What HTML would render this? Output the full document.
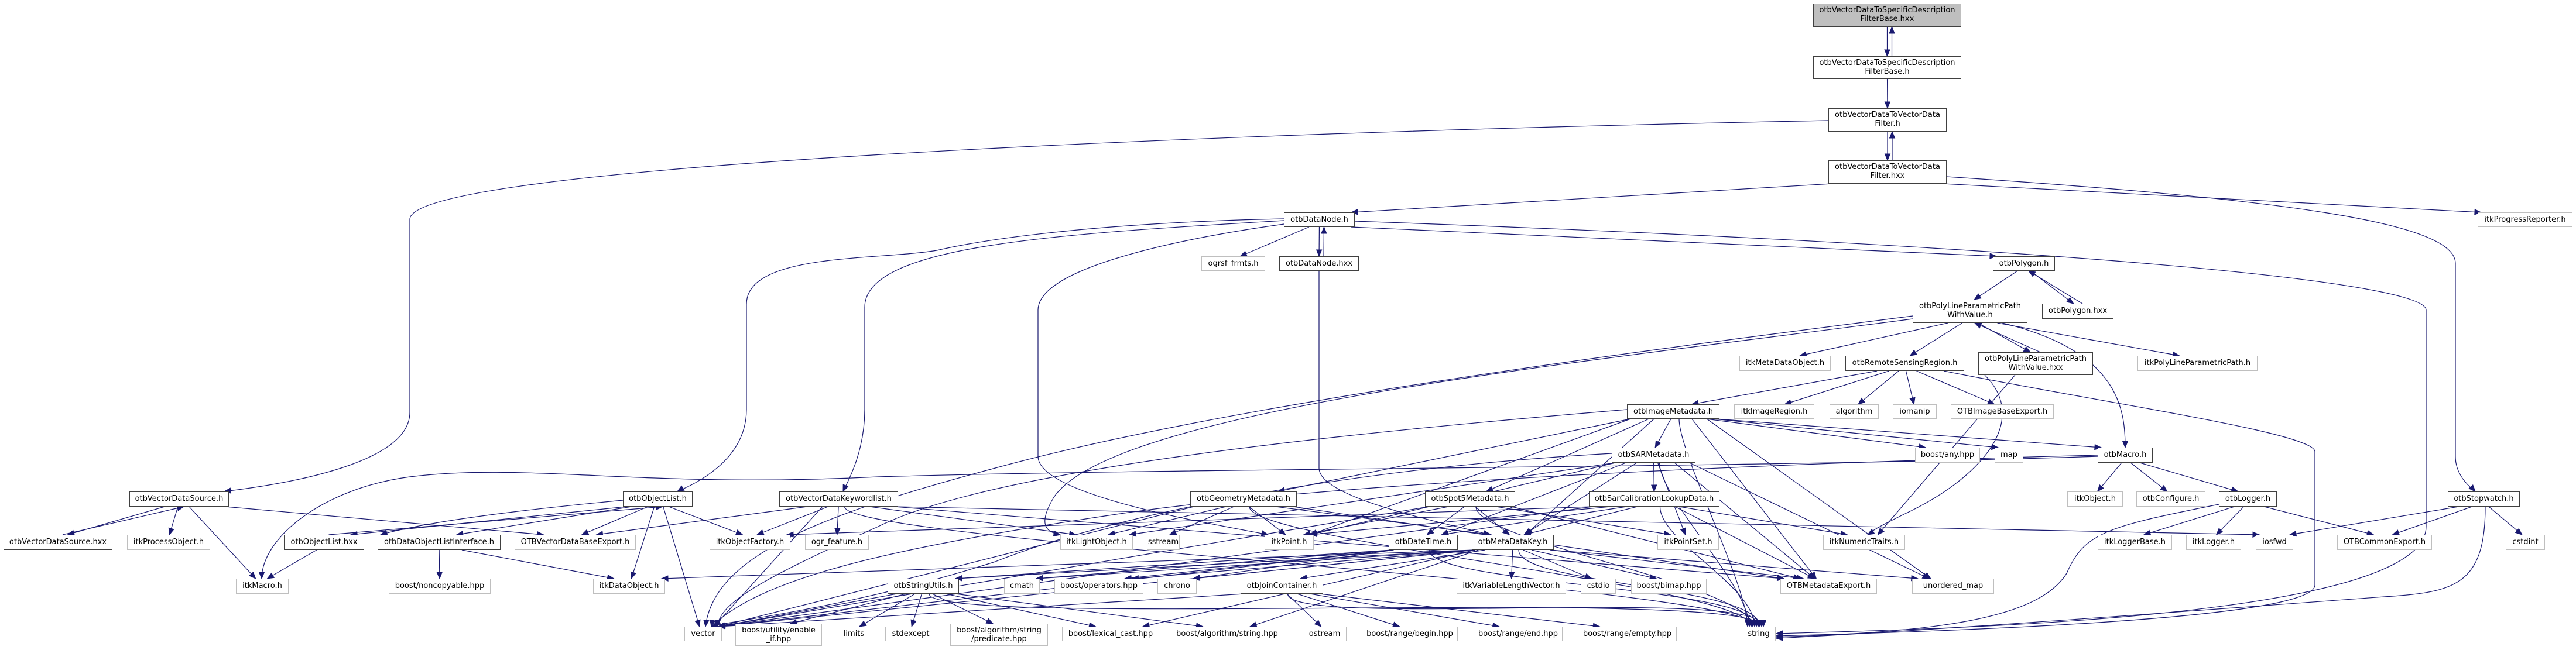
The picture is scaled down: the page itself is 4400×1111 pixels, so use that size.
<!DOCTYPE html>
<html><head><meta charset="utf-8">
<style>
html,body{margin:0;padding:0;background:#fff;}
#c{position:relative;width:4400px;height:1111px;overflow:hidden;background:#fff;}
.n{position:absolute;box-sizing:border-box;border:1px solid #bfbfbf;background:#fff;font-family:"DejaVu Sans","Liberation Sans",sans-serif;font-size:13px;color:#000;text-align:center;line-height:23px;white-space:nowrap;z-index:2;}
.b{border:1.5px solid #404040;}
.r{background:#bfbfbf;border:1.5px solid #404040;}
.t{line-height:15px;padding-top:3px;}
svg{position:absolute;left:0;top:0;z-index:1;}
</style></head><body>
<div id="c">
<svg id="s" width="4400" height="1111" viewBox="0 0 4400 1111"></svg>

<div class="n r t" id="A" style="left:3097px;top:6px;width:253px;height:40px">otbVectorDataToSpecificDescription<br>FilterBase.hxx</div>
<div class="n b t" id="B" style="left:3097px;top:96px;width:253px;height:39px">otbVectorDataToSpecificDescription<br>FilterBase.h</div>
<div class="n b t" id="C" style="left:3123px;top:185px;width:202px;height:40px">otbVectorDataToVectorData<br>Filter.h</div>
<div class="n b t" id="D" style="left:3123px;top:274px;width:202px;height:40px">otbVectorDataToVectorData<br>Filter.hxx</div>

<div class="n b" id="DN" style="left:2193px;top:363px;width:121px;height:25px">otbDataNode.h</div>
<div class="n" id="PR" style="left:4232px;top:363px;width:162px;height:25px">itkProgressReporter.h</div>

<div class="n" id="OG" style="left:2052px;top:438px;width:109px;height:25px">ogrsf_frmts.h</div>
<div class="n b" id="DNX" style="left:2185px;top:438px;width:136px;height:25px">otbDataNode.hxx</div>
<div class="n b" id="PG" style="left:3404px;top:438px;width:106px;height:25px">otbPolygon.h</div>

<div class="n b t" id="PLV" style="left:3267px;top:512px;width:196px;height:40px">otbPolyLineParametricPath<br>WithValue.h</div>
<div class="n b" id="PGX" style="left:3488px;top:519px;width:122px;height:26px">otbPolygon.hxx</div>

<div class="n" id="MDO" style="left:2971px;top:608px;width:156px;height:26px">itkMetaDataObject.h</div>
<div class="n b" id="RSR" style="left:3152px;top:608px;width:203px;height:26px">otbRemoteSensingRegion.h</div>
<div class="n b t" id="PLVX" style="left:3379px;top:602px;width:196px;height:39px">otbPolyLineParametricPath<br>WithValue.hxx</div>
<div class="n" id="IPP" style="left:3651px;top:608px;width:205px;height:26px">itkPolyLineParametricPath.h</div>

<div class="n b" id="IM" style="left:2779px;top:691px;width:158px;height:25px">otbImageMetadata.h</div>
<div class="n" id="IR" style="left:2962px;top:691px;width:137px;height:25px">itkImageRegion.h</div>
<div class="n" id="ALG" style="left:3125px;top:691px;width:84px;height:25px">algorithm</div>
<div class="n" id="IOM" style="left:3233px;top:691px;width:75px;height:25px">iomanip</div>
<div class="n" id="OIBE" style="left:3332px;top:691px;width:176px;height:25px">OTBImageBaseExport.h</div>

<div class="n b" id="SAR" style="left:2753px;top:765px;width:143px;height:26px">otbSARMetadata.h</div>
<div class="n" id="ANY" style="left:3271px;top:765px;width:111px;height:26px">boost/any.hpp</div>
<div class="n" id="MAP" style="left:3407px;top:765px;width:49px;height:26px">map</div>
<div class="n b" id="MAC" style="left:3583px;top:765px;width:94px;height:26px">otbMacro.h</div>

<div class="n b" id="VDS" style="left:221px;top:840px;width:170px;height:26px">otbVectorDataSource.h</div>
<div class="n b" id="OL" style="left:1064px;top:840px;width:119px;height:26px">otbObjectList.h</div>
<div class="n b" id="VDK" style="left:1331px;top:840px;width:203px;height:26px">otbVectorDataKeywordlist.h</div>
<div class="n b" id="GEO" style="left:2033px;top:840px;width:182px;height:26px">otbGeometryMetadata.h</div>
<div class="n b" id="S5" style="left:2434px;top:840px;width:154px;height:26px">otbSpot5Metadata.h</div>
<div class="n b" id="SCL" style="left:2714px;top:840px;width:223px;height:26px">otbSarCalibrationLookupData.h</div>
<div class="n" id="IOBJ" style="left:3531px;top:840px;width:95px;height:26px">itkObject.h</div>
<div class="n" id="CONF" style="left:3649px;top:840px;width:118px;height:26px">otbConfigure.h</div>
<div class="n b" id="LOG" style="left:3790px;top:840px;width:99px;height:26px">otbLogger.h</div>
<div class="n b" id="SW" style="left:4181px;top:840px;width:123px;height:26px">otbStopwatch.h</div>

<div class="n b" id="VDSX" style="left:6px;top:914px;width:186px;height:26px">otbVectorDataSource.hxx</div>
<div class="n" id="IPO" style="left:217px;top:914px;width:142px;height:26px">itkProcessObject.h</div>
<div class="n b" id="OLX" style="left:485px;top:914px;width:137px;height:26px">otbObjectList.hxx</div>
<div class="n b" id="DOLI" style="left:645px;top:914px;width:210px;height:26px">otbDataObjectListInterface.h</div>
<div class="n" id="OVBE" style="left:879px;top:914px;width:207px;height:26px">OTBVectorDataBaseExport.h</div>
<div class="n" id="IOF" style="left:1212px;top:914px;width:138px;height:26px">itkObjectFactory.h</div>
<div class="n" id="OGRF" style="left:1375px;top:914px;width:109px;height:26px">ogr_feature.h</div>
<div class="n" id="ILO" style="left:1811px;top:914px;width:124px;height:26px">itkLightObject.h</div>
<div class="n" id="SST" style="left:1959px;top:914px;width:56px;height:26px">sstream</div>
<div class="n" id="IPT" style="left:2160px;top:914px;width:84px;height:26px">itkPoint.h</div>
<div class="n b" id="DT" style="left:2372px;top:914px;width:118px;height:26px">otbDateTime.h</div>
<div class="n b" id="MDK" style="left:2514px;top:914px;width:140px;height:26px">otbMetaDataKey.h</div>
<div class="n" id="IPS" style="left:2831px;top:914px;width:105px;height:26px">itkPointSet.h</div>
<div class="n" id="INT" style="left:3114px;top:914px;width:140px;height:26px">itkNumericTraits.h</div>
<div class="n" id="ILB" style="left:3583px;top:914px;width:127px;height:26px">itkLoggerBase.h</div>
<div class="n" id="ILG" style="left:3734px;top:914px;width:94px;height:26px">itkLogger.h</div>
<div class="n" id="IOSF" style="left:3853px;top:914px;width:64px;height:26px">iosfwd</div>
<div class="n" id="OCE" style="left:3992px;top:914px;width:162px;height:26px">OTBCommonExport.h</div>
<div class="n" id="CSI" style="left:4280px;top:914px;width:67px;height:26px">cstdint</div>

<div class="n" id="IMAC" style="left:403px;top:989px;width:90px;height:26px">itkMacro.h</div>
<div class="n" id="NONC" style="left:664px;top:989px;width:174px;height:26px">boost/noncopyable.hpp</div>
<div class="n" id="IDO" style="left:1013px;top:989px;width:123px;height:26px">itkDataObject.h</div>
<div class="n b" id="SU" style="left:1516px;top:989px;width:122px;height:26px">otbStringUtils.h</div>
<div class="n" id="CMATH" style="left:1715px;top:989px;width:61px;height:26px">cmath</div>
<div class="n" id="BOP" style="left:1801px;top:989px;width:152px;height:26px">boost/operators.hpp</div>
<div class="n" id="CHR" style="left:1977px;top:989px;width:67px;height:26px">chrono</div>
<div class="n b" id="JC" style="left:2119px;top:989px;width:141px;height:26px">otbJoinContainer.h</div>
<div class="n" id="IVLV" style="left:2488px;top:989px;width:187px;height:26px">itkVariableLengthVector.h</div>
<div class="n" id="CSTD" style="left:2700px;top:989px;width:60px;height:26px">cstdio</div>
<div class="n" id="BIM" style="left:2786px;top:989px;width:129px;height:26px">boost/bimap.hpp</div>
<div class="n" id="OME" style="left:3041px;top:989px;width:165px;height:26px">OTBMetadataExport.h</div>
<div class="n" id="UM" style="left:3266px;top:989px;width:140px;height:26px">unordered_map</div>

<div class="n" id="VEC" style="left:1169px;top:1071px;width:64px;height:25px">vector</div>
<div class="n t" id="EIF" style="left:1256px;top:1066px;width:148px;height:38px">boost/utility/enable<br>_if.hpp</div>
<div class="n" id="LIM" style="left:1429px;top:1071px;width:59px;height:25px">limits</div>
<div class="n" id="SEX" style="left:1512px;top:1071px;width:87px;height:25px">stdexcept</div>
<div class="n t" id="PRED" style="left:1623px;top:1066px;width:167px;height:38px">boost/algorithm/string<br>/predicate.hpp</div>
<div class="n" id="LEX" style="left:1814px;top:1071px;width:166px;height:25px">boost/lexical_cast.hpp</div>
<div class="n" id="BAS" style="left:2005px;top:1071px;width:182px;height:25px">boost/algorithm/string.hpp</div>
<div class="n" id="OST" style="left:2225px;top:1071px;width:75px;height:25px">ostream</div>
<div class="n" id="RBEG" style="left:2326px;top:1071px;width:164px;height:25px">boost/range/begin.hpp</div>
<div class="n" id="REND" style="left:2517px;top:1071px;width:152px;height:25px">boost/range/end.hpp</div>
<div class="n" id="REMP" style="left:2695px;top:1071px;width:169px;height:25px">boost/range/empty.hpp</div>
<div class="n" id="STR" style="left:2975px;top:1071px;width:58px;height:25px">string</div>
</div>
<script>
(function(){
var s=document.getElementById('s'),NS='http://www.w3.org/2000/svg',col='#191970';
function box(id){var e=document.getElementById(id);return {x1:e.offsetLeft,y1:e.offsetTop,x2:e.offsetLeft+e.offsetWidth,y2:e.offsetTop+e.offsetHeight};}
function path(d){var p=document.createElementNS(NS,'path');p.setAttribute('d',d);p.setAttribute('fill','none');p.setAttribute('stroke',col);p.setAttribute('stroke-width','1.2');s.appendChild(p);}
function arrow(px,py,tx,ty){var dx=tx-px,dy=ty-py,l=Math.sqrt(dx*dx+dy*dy)||1;dx/=l;dy/=l;var L=11,W=4.5;var bx=tx-dx*L,by=ty-dy*L;var q=document.createElementNS(NS,'polygon');q.setAttribute('points',tx+','+ty+' '+(bx-dy*W)+','+(by+dx*W)+' '+(bx+dy*W)+','+(by-dx*W));q.setAttribute('fill',col);q.setAttribute('stroke',col);s.appendChild(q);}
function cl(v,a,b){return Math.max(a,Math.min(b,v));}
function E(a,b){var A=box(a),B=box(b);var acx=(A.x1+A.x2)/2,bcx=(B.x1+B.x2)/2;var sx,sy,tx,ty;
 if(B.y1>=A.y2-2){sx=cl(acx+(bcx-acx)*0.12,A.x1+6,A.x2-6);sy=A.y2;tx=cl(bcx-(bcx-acx)*0.08,B.x1+6,B.x2-6);ty=B.y1;}
 else{sx=cl(acx+8,A.x1+6,A.x2-6);sy=A.y1;tx=cl(bcx+8,B.x1+6,B.x2-6);ty=B.y2;}
 if(a+'>'+b in back){}
 path('M'+sx+','+sy+' L'+tx+','+ty);arrow(sx,sy,tx,ty);}
var back={};
var fwd=[['B','C'],['D','DN'],['D','PR'],['DN','OG'],['DN','PG'],['PG','PLV'],['PLV','MDO'],['PLV','RSR'],['PLV','IPP'],['RSR','IM'],['RSR','IR'],['RSR','ALG'],['RSR','IOM'],['RSR','OIBE'],
['IM','SAR'],['IM','ANY'],['IM','MAP'],['IM','MAC'],['IM','S5'],['IM','GEO'],['IM','MDK'],['IM','OME'],['IM','UM'],['IM','IPT'],
['SAR','SCL'],['SAR','MDK'],['SAR','DT'],['SAR','IPT'],['SAR','IPS'],['SAR','OME'],['SAR','UM'],['SAR','ILO'],
['MAC','IOBJ'],['MAC','CONF'],['MAC','LOG'],['LOG','ILB'],['LOG','ILG'],['LOG','OCE'],['SW','IOSF'],['SW','OCE'],['SW','CSI'],
['GEO','ILO'],['GEO','SST'],['GEO','VEC'],['GEO','MDK'],['GEO','OME'],['GEO','IPT'],
['S5','MDK'],['S5','DT'],['S5','IPT'],['S5','IPS'],['S5','OME'],['S5','VEC'],
['SCL','MDK'],['SCL','IPT'],['SCL','INT'],['SCL','OME'],['SCL','VEC'],['SCL','IOF'],['SCL','DT'],
['VDK','IOF'],['VDK','OGRF'],['VDK','ILO'],['VDK','VEC'],['VDK','OVBE'],['VDK','OME'],['VDK','IOSF'],
['OL','DOLI'],['OL','IOF'],['OL','IDO'],['OL','VEC'],['OL','OVBE'],['OLX','IMAC'],['DOLI','NONC'],['DOLI','IDO'],
['VDS','IPO'],['VDS','IMAC'],['VDS','OVBE'],
['DT','SU'],['DT','VEC'],['DT','CMATH'],['DT','CHR'],['DT','BOP'],
['MDK','IVLV'],['MDK','CSTD'],['MDK','BIM'],['MDK','OME'],['MDK','UM'],['MDK','VEC'],['MDK','JC'],['MDK','SU'],['MDK','BOP'],['MDK','CHR'],['MDK','CMATH'],['MDK','LEX'],['MDK','BAS'],['MDK','IDO'],
['SU','VEC'],['SU','EIF'],['SU','LIM'],['SU','SEX'],['SU','PRED'],['SU','LEX'],['SU','BAS'],
['JC','OST'],['JC','RBEG'],['JC','REND'],['JC','REMP'],['JC','VEC'],
['PLVX','INT'],
['A','B'],['B','A'],['C','D'],['D','C'],['DN','DNX'],['DNX','DN'],['PG','PGX'],['PGX','PG'],['PLV','PLVX'],['PLVX','PLV'],['OL','OLX'],['OLX','OL'],['VDS','VDSX'],['VDSX','VDS']];
fwd.forEach(function(e){E(e[0],e[1]);});
// edges into string (right side convergence)
var S=box('STR');
[['IM',0],['SAR',1],['GEO',2],['S5',3],['SCL',4],['VDK',5],['DT',6],['MDK',7],['SU',8],['JC',9]].forEach(function(e){var A=box(e[0]);var sx=(A.x1+A.x2)/2+10,sy=A.y2;var tx=S.x1+10+e[1]*3,ty=S.y1;
 path('M'+sx+','+sy+' C'+sx+','+(sy+60)+' '+tx+','+(ty-70)+' '+tx+','+ty);arrow(tx,ty-20,tx,ty);});
// custom long routes
var C=[
['M3123,206 C2000,228 700,285 700,375 L700,705 C700,790 500,826 383,840',700,800,383,840],
['M3325,302 C3900,340 4194,380 4194,450 L4194,780 C4194,810 4215,830 4228,840',4215,826,4228,840],
['M2314,378 C3500,420 4144,480 4144,530 L4144,900 C4144,1060 3300,1075 3034,1083',3100,1080,3034,1083],
['M2193,374 C1900,380 1700,405 1600,428 C1500,445 1275,432 1275,520 L1275,700 C1275,790 1180,830 1157,840',1170,832,1157,840],
['M2193,377 C1800,400 1477,420 1477,525 L1477,700 C1477,770 1450,820 1440,840',1446,826,1440,840],
['M2193,383 C2000,410 1773,460 1773,530 L1773,780 C1773,850 2100,900 2166,914',2140,908,2166,914],
['M2253,463 L2253,800 C2253,850 2450,890 2545,914',2515,907,2545,914],
['M3320,634 C3600,690 3954,740 3954,772 L3954,1000 C3954,1060 3300,1080 3034,1087',3100,1084,3034,1087],
['M3267,540 C2800,600 2100,690 1700,800 C1400,880 1220,950 1205,1071',1207,1055,1205,1071],
['M3267,545 C2700,620 1900,700 1800,850 C1770,900 1790,910 1811,914',1800,912,1811,914],
['M3583,780 C3000,800 2000,800 1500,815 C1100,835 900,790 700,815 C550,835 447,920 447,989',447,975,447,989],
['M3420,552 C3620,600 3630,700 3630,765',3630,750,3630,765],
['M3790,862 C3600,900 3560,910 3530,980 C3480,1060 3300,1080 3034,1089',3100,1086,3034,1089],
['M4245,866 C4245,990 4200,1010 4100,1018 C3800,1040 3300,1078 3034,1091',3100,1088,3034,1091],
['M3583,778 C3100,790 2300,820 1900,880 C1500,940 1300,990 1215,1071',1218,1056,1215,1071],
['M2779,700 C2300,740 1700,800 1500,900 C1300,990 1230,1030 1225,1071',1226,1056,1225,1071],
['M2753,775 C2300,800 1900,880 1700,960 C1450,1040 1250,1060 1215,1071',1230,1066,1215,1071],
['M3390,641 C3470,720 3380,820 3250,880 C3220,895 3200,905 3190,914',3200,908,3190,914],
['M1064,855 C800,880 700,900 650,914',660,911,650,914]
];
C.forEach(function(c){path(c[0]);arrow(c[1],c[2],c[3],c[4]);});
})();
</script>
</body></html>
